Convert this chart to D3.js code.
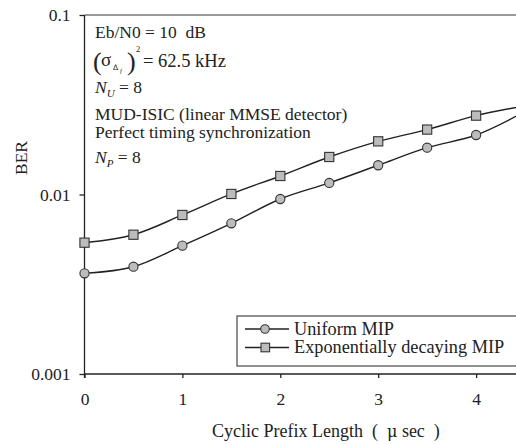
<!DOCTYPE html>
<html>
<head>
<meta charset="utf-8">
<script src="https://cdn.jsdelivr.net/npm/d3@7"></script>
<style>
  html, body { margin: 0; padding: 0; background: #fff; }
  svg { display: block; font-family: "Liberation Serif", "Times New Roman", serif; }
</style>
</head>
<body>
<svg id="chart" width="516" height="445"></svg>
<script>
// Cyclic prefix length (µs)
const cpLength = [0, 0.5, 1, 1.5, 2, 2.5, 3, 3.5, 4, 4.5];
// BER, uniform multipath intensity profile
const berUniform = [0.00364, 0.00396, 0.00519, 0.00691, 0.00944, 0.0116, 0.01455, 0.01823, 0.02145, 0.0290];
// BER, exponentially decaying multipath intensity profile
const berExponential = [0.00539, 0.00597, 0.00769, 0.01007, 0.01268, 0.01618, 0.01978, 0.0230, 0.0275, 0.0312];
const xTicks = [0, 1, 2, 3, 4];
const yTicks = [0.001, 0.01, 0.1];
const seriesNames = ["Uniform MIP", "Exponentially decaying MIP"];

const svg = d3.select("#chart");
const plotLeft = 84.5, plotTop = 15, plotBottom = 374;
const x = d3.scaleLinear().domain([0, 5]).range([plotLeft, plotLeft + 5 * 97.9]);
const y = d3.scaleLog().domain([0.001, 0.1]).range([plotBottom, plotTop]);

// frame: top border
svg.append("line")
  .attr("x1", plotLeft).attr("x2", 600).attr("y1", plotTop).attr("y2", plotTop)
  .attr("stroke", "#777").attr("stroke-width", 1.5);

// y axis
const yAxis = svg.append("g").attr("transform", `translate(${plotLeft},0)`)
  .call(d3.axisLeft(y).tickValues(yTicks).tickSize(5).tickPadding(9)
    .tickFormat(d => d === 0.1 ? "0.1" : d === 0.01 ? "0.01" : "0.001"));
yAxis.select(".domain").attr("stroke", "#222").attr("stroke-width", 1.3).attr("d", `M0,${plotBottom + 4}V${plotTop}`);
yAxis.selectAll(".tick line").attr("stroke", "#222").attr("stroke-width", 1.3);
yAxis.selectAll("text").attr("font-size", 17.5).attr("fill", "#222")
  .attr("font-family", "Liberation Serif");

// x axis
const xAxis = svg.append("g").attr("transform", `translate(0,${plotBottom})`)
  .call(d3.axisBottom(x).tickValues(xTicks).tickSize(4).tickPadding(15).tickFormat(d3.format("d")));
xAxis.select(".domain").attr("stroke", "#222").attr("stroke-width", 1.3).attr("d", `M${plotLeft},0H600`);
xAxis.selectAll(".tick line").attr("stroke", "#222").attr("stroke-width", 1.3);
xAxis.selectAll("text").attr("font-size", 17.5).attr("fill", "#222")
  .attr("font-family", "Liberation Serif");

// axis titles
svg.append("text")
  .attr("transform", "translate(27,158) rotate(-90)")
  .attr("text-anchor", "middle").attr("font-size", 17.5).attr("fill", "#222")
  .text("BER");
const xt = svg.append("text")
  .attr("x", 212).attr("y", 437).attr("font-size", 18).attr("fill", "#222")
  .attr("xml:space", "preserve");
xt.append("tspan").text("Cyclic Prefix Length  (  ");
xt.append("tspan").attr("font-family", "DejaVu Serif").attr("font-size", 16).text("μ");
xt.append("tspan").text(" sec  )");

// curves and markers
const line = d3.line().x(d => x(d[0])).y(d => y(d[1])).curve(d3.curveCatmullRom);
const uni = cpLength.map((c, i) => [c, berUniform[i]]);
const expo = cpLength.map((c, i) => [c, berExponential[i]]);

svg.append("path").datum(uni).attr("d", line)
  .attr("fill", "none").attr("stroke", "#222").attr("stroke-width", 1.4);
svg.append("path").datum(expo).attr("d", line)
  .attr("fill", "none").attr("stroke", "#222").attr("stroke-width", 1.4);

svg.append("g").selectAll("circle").data(uni).join("circle")
  .attr("cx", d => x(d[0])).attr("cy", d => y(d[1])).attr("r", 4.6)
  .attr("fill", "#bcbcbc").attr("stroke", "#333").attr("stroke-width", 1.1);
svg.append("g").selectAll("rect").data(expo).join("rect")
  .attr("x", d => x(d[0]) - 4.6).attr("y", d => y(d[1]) - 4.6)
  .attr("width", 9.2).attr("height", 9.2)
  .attr("fill", "#bcbcbc").attr("stroke", "#333").attr("stroke-width", 1.1);

// parameter annotations
const ann = svg.append("g").attr("font-size", 17.5).attr("fill", "#222");
ann.append("text").attr("x", 95).attr("y", 38).attr("xml:space", "preserve").text("Eb/N0 = 10  dB");
// (σ_Δf)^2 = 62.5 kHz
ann.append("text").attr("x", 93).attr("y", 70).attr("font-size", 26).text("(");
ann.append("text").attr("x", 101).attr("y", 66).attr("font-size", 19).text("σ");
ann.append("text").attr("x", 113).attr("y", 70).attr("font-size", 7.5).attr("font-family", "DejaVu Sans").text("Δ");
ann.append("text").attr("x", 120).attr("y", 73).attr("font-size", 6.5).attr("font-style", "italic").text("f");
ann.append("text").attr("x", 127).attr("y", 70).attr("font-size", 26).text(")");
ann.append("text").attr("x", 136).attr("y", 52).attr("font-size", 8.5).text("2");
ann.append("text").attr("x", 143).attr("y", 67).attr("font-size", 18.5).text("= 62.5 kHz");

const nu = ann.append("text").attr("x", 95).attr("y", 93);
nu.append("tspan").attr("font-style", "italic").text("N");
nu.append("tspan").attr("font-style", "italic").attr("font-size", 11).attr("dy", 4).text("U");
nu.append("tspan").attr("dy", -4).text(" = 8");

ann.append("text").attr("x", 95).attr("y", 120).text("MUD-ISIC (linear MMSE detector)");
ann.append("text").attr("x", 95).attr("y", 138).text("Perfect timing synchronization");

const np = ann.append("text").attr("x", 95).attr("y", 163);
np.append("tspan").attr("font-style", "italic").text("N");
np.append("tspan").attr("font-style", "italic").attr("font-size", 11).attr("dy", 4).text("P");
np.append("tspan").attr("dy", -4).text(" = 8");

// legend
const lg = svg.append("g");
lg.append("rect").attr("x", 237).attr("y", 316).attr("width", 320).attr("height", 50)
  .attr("fill", "#fff").attr("stroke", "#555").attr("stroke-width", 1.3);
seriesNames.forEach((name, i) => {
  const ly = 329 + i * 18.5;
  lg.append("line").attr("x1", 245).attr("x2", 289).attr("y1", ly).attr("y2", ly)
    .attr("stroke", "#222").attr("stroke-width", 1.4);
  if (i === 0) {
    lg.append("circle").attr("cx", 265).attr("cy", ly).attr("r", 4.3)
      .attr("fill", "#bcbcbc").attr("stroke", "#333").attr("stroke-width", 1.1);
  } else {
    lg.append("rect").attr("x", 261).attr("y", ly - 4.3).attr("width", 8.6).attr("height", 8.6)
      .attr("fill", "#bcbcbc").attr("stroke", "#333").attr("stroke-width", 1.1);
  }
  lg.append("text").attr("x", 294).attr("y", ly + 5.5).attr("font-size", 18.3).attr("fill", "#222")
    .text(name);
});
</script>
</body>
</html>
